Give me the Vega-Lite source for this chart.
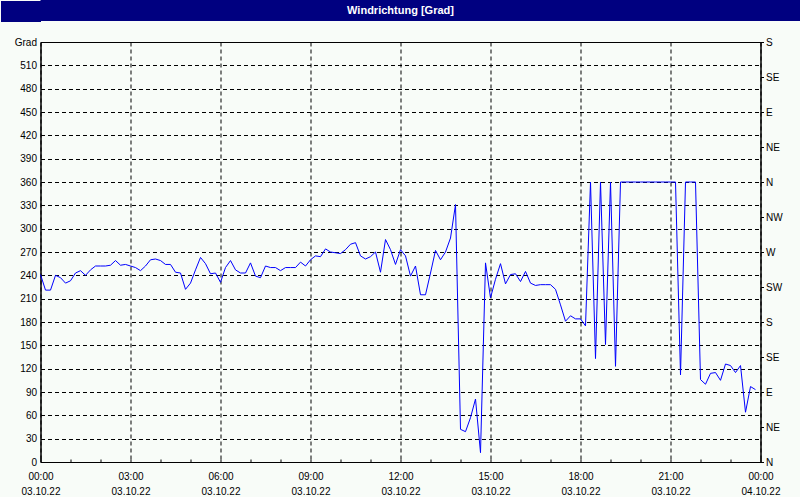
{
  "$schema": "https://vega.github.io/schema/vega-lite/v6.json",
  "background": "#f8fcf8",
  "padding": {"left": -10.5, "right": 0, "top": 0, "bottom": 0},
  "spacing": 14,
  "config": {
    "view": {"stroke": "#000000", "strokeWidth": 1, "fill": "#f8fcf8"},
    "font": "Liberation Sans",
    "axis": {"labelFont": "Liberation Sans", "labelFontSize": 10, "labelColor": "#000000", "domainColor": "#000000", "tickColor": "#000000", "gridColor": "#000000", "gridDash": [4, 3], "gridWidth": 1}
  },
  "vconcat": [
    {
      "width": 760,
      "height": 21,
      "view": {"fill": "#000080", "stroke": null},
      "data": {"values": [{"title": "Windrichtung [Grad]"}]},
      "mark": {"type": "text", "color": "#ffffff", "fontWeight": "bold", "fontSize": 11, "font": "Liberation Sans", "baseline": "middle", "align": "center", "dx": -20},
      "encoding": {
        "text": {"field": "title", "type": "nominal"},
        "y": {"field": "title", "type": "nominal", "title": null,
          "scale": {"type": "point", "padding": 0.5},
          "axis": {"orient": "left", "labels": false, "domain": false, "grid": false, "ticks": true, "tickSize": 40, "tickWidth": 21, "tickColor": "#000080", "tickCap": "butt", "minExtent": 40, "maxExtent": 40}}
      }
    },
    {
      "width": 720,
      "height": 420,
      "data": {"values": [
        {"min": 0, "grad": 241}, {"min": 10, "grad": 221}, {"min": 20, "grad": 221}, {"min": 30, "grad": 240}, {"min": 40, "grad": 237}, {"min": 50, "grad": 230},
        {"min": 60, "grad": 233}, {"min": 70, "grad": 243}, {"min": 80, "grad": 246}, {"min": 90, "grad": 240}, {"min": 100, "grad": 247}, {"min": 110, "grad": 252},
        {"min": 120, "grad": 252}, {"min": 130, "grad": 252}, {"min": 140, "grad": 253}, {"min": 150, "grad": 259}, {"min": 160, "grad": 253}, {"min": 170, "grad": 254},
        {"min": 180, "grad": 252}, {"min": 190, "grad": 250}, {"min": 200, "grad": 246}, {"min": 210, "grad": 252}, {"min": 220, "grad": 260}, {"min": 230, "grad": 261},
        {"min": 240, "grad": 259}, {"min": 250, "grad": 254}, {"min": 260, "grad": 254}, {"min": 270, "grad": 244}, {"min": 280, "grad": 243}, {"min": 290, "grad": 222},
        {"min": 300, "grad": 230}, {"min": 310, "grad": 247}, {"min": 320, "grad": 263}, {"min": 330, "grad": 255}, {"min": 340, "grad": 242}, {"min": 350, "grad": 243},
        {"min": 360, "grad": 231}, {"min": 370, "grad": 250}, {"min": 380, "grad": 259}, {"min": 390, "grad": 247}, {"min": 400, "grad": 243}, {"min": 410, "grad": 243},
        {"min": 420, "grad": 256}, {"min": 430, "grad": 239}, {"min": 440, "grad": 237}, {"min": 450, "grad": 252}, {"min": 460, "grad": 250}, {"min": 470, "grad": 250},
        {"min": 480, "grad": 246}, {"min": 490, "grad": 250}, {"min": 500, "grad": 250}, {"min": 510, "grad": 250}, {"min": 520, "grad": 257}, {"min": 530, "grad": 252},
        {"min": 540, "grad": 260}, {"min": 550, "grad": 265}, {"min": 560, "grad": 264}, {"min": 570, "grad": 274}, {"min": 580, "grad": 270}, {"min": 590, "grad": 269},
        {"min": 600, "grad": 268}, {"min": 610, "grad": 273}, {"min": 620, "grad": 280}, {"min": 630, "grad": 282}, {"min": 640, "grad": 265}, {"min": 650, "grad": 261},
        {"min": 660, "grad": 264}, {"min": 670, "grad": 270}, {"min": 680, "grad": 244}, {"min": 690, "grad": 286}, {"min": 700, "grad": 273}, {"min": 710, "grad": 254},
        {"min": 720, "grad": 273}, {"min": 730, "grad": 265}, {"min": 740, "grad": 239}, {"min": 750, "grad": 252}, {"min": 760, "grad": 215}, {"min": 770, "grad": 215},
        {"min": 780, "grad": 243}, {"min": 790, "grad": 272}, {"min": 800, "grad": 260}, {"min": 810, "grad": 270}, {"min": 820, "grad": 288}, {"min": 830, "grad": 331},
        {"min": 840, "grad": 42}, {"min": 850, "grad": 39}, {"min": 860, "grad": 57}, {"min": 870, "grad": 81}, {"min": 880, "grad": 12}, {"min": 890, "grad": 256},
        {"min": 900, "grad": 211}, {"min": 910, "grad": 235}, {"min": 920, "grad": 255}, {"min": 930, "grad": 229}, {"min": 940, "grad": 241}, {"min": 950, "grad": 242},
        {"min": 960, "grad": 232}, {"min": 970, "grad": 245}, {"min": 980, "grad": 230}, {"min": 990, "grad": 227}, {"min": 1000, "grad": 228}, {"min": 1010, "grad": 228},
        {"min": 1020, "grad": 228}, {"min": 1030, "grad": 222}, {"min": 1040, "grad": 202}, {"min": 1050, "grad": 181}, {"min": 1060, "grad": 188}, {"min": 1070, "grad": 184},
        {"min": 1080, "grad": 184}, {"min": 1090, "grad": 175}, {"min": 1100, "grad": 360}, {"min": 1110, "grad": 133}, {"min": 1120, "grad": 360}, {"min": 1130, "grad": 151},
        {"min": 1140, "grad": 360}, {"min": 1150, "grad": 123}, {"min": 1160, "grad": 360}, {"min": 1170, "grad": 360}, {"min": 1180, "grad": 360}, {"min": 1190, "grad": 360},
        {"min": 1200, "grad": 360}, {"min": 1210, "grad": 360}, {"min": 1220, "grad": 360}, {"min": 1230, "grad": 360}, {"min": 1240, "grad": 360}, {"min": 1250, "grad": 360},
        {"min": 1260, "grad": 360}, {"min": 1270, "grad": 360}, {"min": 1280, "grad": 112}, {"min": 1290, "grad": 360}, {"min": 1300, "grad": 360}, {"min": 1310, "grad": 360},
        {"min": 1320, "grad": 106}, {"min": 1330, "grad": 100}, {"min": 1340, "grad": 114}, {"min": 1350, "grad": 115}, {"min": 1360, "grad": 105}, {"min": 1370, "grad": 126},
        {"min": 1380, "grad": 124}, {"min": 1390, "grad": 115}, {"min": 1400, "grad": 124}, {"min": 1410, "grad": 64}, {"min": 1420, "grad": 97}, {"min": 1430, "grad": 93}
      ]},
      "encoding": {
        "x": {
          "field": "min", "type": "quantitative", "title": null,
          "scale": {"domain": [0, 1440], "nice": false, "zero": false},
          "axis": {
            "values": [0, 60, 120, 180, 240, 300, 360, 420, 480, 540, 600, 660, 720, 780, 840, 900, 960, 1020, 1080, 1140, 1200, 1260, 1320, 1380, 1440],
            "labelExpr": "datum.value % 180 == 0 ? [(floor(datum.value / 60) % 24 < 10 ? '0' : '') + (floor(datum.value / 60) % 24) + ':00', datum.value < 1440 ? '03.10.22' : '04.10.22'] : ''",
            "labelFlush": false, "labelOverlap": false, "labelBaseline": "top", "labelLineHeight": 15, "labelPadding": 12,
            "ticks": true, "tickSize": -3,
            "grid": true,
            "gridOpacity": {"condition": {"test": "datum.value % 180 == 0", "value": 1}, "value": 0}
          }
        }
      },
      "layer": [
        {
          "mark": {"type": "line", "color": "#0000ff", "strokeWidth": 1},
          "encoding": {
            "y": {
              "field": "grad", "type": "quantitative", "title": null,
              "scale": {"domain": [0, 540], "nice": false, "zero": true},
              "axis": {"orient": "left", "values": [0, 30, 60, 90, 120, 150, 180, 210, 240, 270, 300, 330, 360, 390, 420, 450, 480, 510, 540],
                "labelExpr": "datum.value == 540 ? 'Grad' : datum.label",
                "ticks": false, "labelPadding": 4, "grid": true, "minExtent": 40, "maxExtent": 40}
            }
          }
        },
        {
          "mark": {"type": "point", "opacity": 0},
          "encoding": {
            "y": {
              "field": "grad", "type": "quantitative", "title": null,
              "axis": {"orient": "right", "values": [0, 45, 90, 135, 180, 225, 270, 315, 360, 405, 450, 495, 540],
                "labelExpr": "['N','NE','E','SE','S','SW','W','NW'][round(datum.value / 45) % 8]",
                "ticks": true, "tickSize": 3, "labelPadding": 2, "grid": false, "labelAlign": "left"}
            }
          }
        }
      ],
      "resolve": {"axis": {"y": "independent"}}
    }
  ]
}
